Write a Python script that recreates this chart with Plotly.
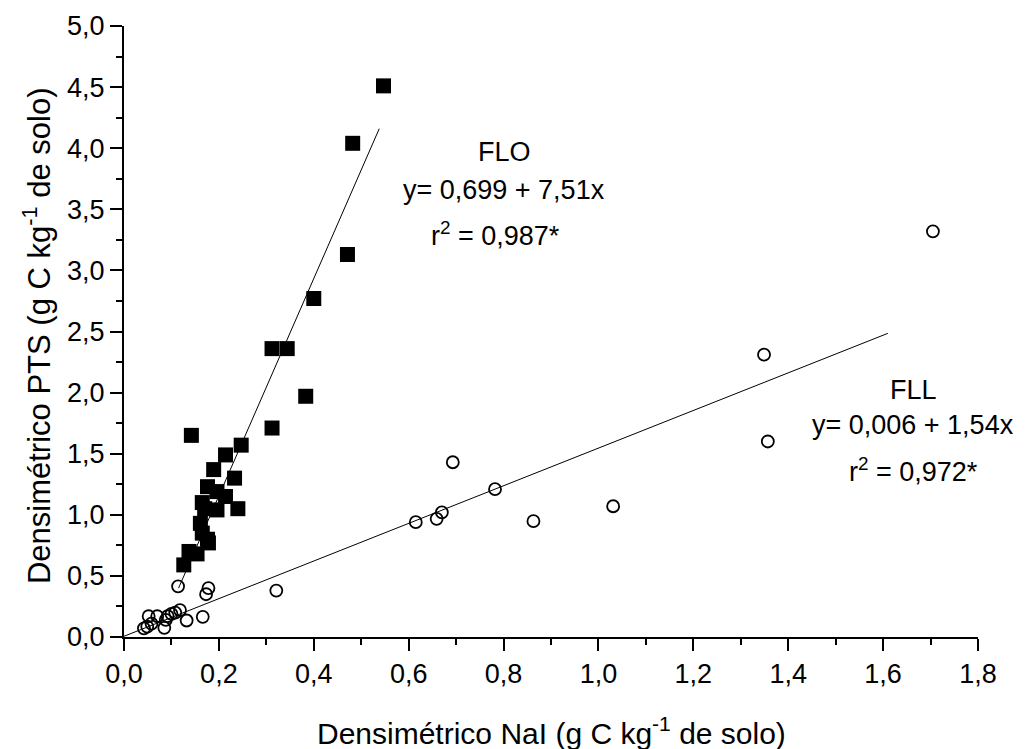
import plotly.graph_objects as go

# FLO (filled squares)
flo_x = [0.547, 0.482, 0.471, 0.400, 0.312, 0.344, 0.383, 0.312, 0.142, 0.247,
         0.214, 0.189, 0.233, 0.176, 0.196, 0.214, 0.165, 0.240, 0.196, 0.170,
         0.161, 0.165, 0.176, 0.178, 0.137, 0.154, 0.126]
flo_y = [4.51, 4.04, 3.13, 2.77, 2.36, 2.36, 1.97, 1.71, 1.65, 1.57,
         1.49, 1.37, 1.30, 1.23, 1.19, 1.15, 1.10, 1.05, 1.04, 1.05,
         0.93, 0.85, 0.80, 0.77, 0.70, 0.68, 0.59]

# FLL (open circles)
fll_x = [0.042, 0.049, 0.052, 0.058, 0.070, 0.085, 0.088, 0.092, 0.100, 0.108,
         0.118, 0.132, 0.166, 0.114, 0.173, 0.178, 0.321,
         0.615, 0.659, 0.670, 0.693, 0.782, 0.863, 1.031, 1.349, 1.357, 1.705]
fll_y = [0.07, 0.085, 0.17, 0.11, 0.17, 0.075, 0.14, 0.17, 0.19, 0.20,
         0.22, 0.135, 0.165, 0.415, 0.35, 0.40, 0.38,
         0.94, 0.967, 1.02, 1.43, 1.21, 0.948, 1.07, 2.31, 1.60, 3.32]

# regression lines as drawn
flo_fit_x = [0.115, 0.538]
flo_fit_y = [0.40, 4.16]
fll_fit_x = [0.0, 1.61]
fll_fit_y = [0.006, 2.485]

x_ticks = [0.0, 0.2, 0.4, 0.6, 0.8, 1.0, 1.2, 1.4, 1.6, 1.8]
y_ticks = [0.0, 0.5, 1.0, 1.5, 2.0, 2.5, 3.0, 3.5, 4.0, 4.5, 5.0]

FONT = "Liberation Sans, Arial, sans-serif"

fig = go.Figure()
fig.add_trace(go.Scatter(x=flo_fit_x, y=flo_fit_y, mode="lines",
                         line=dict(color="black", width=1), showlegend=False, hoverinfo="skip"))
fig.add_trace(go.Scatter(x=fll_fit_x, y=fll_fit_y, mode="lines",
                         line=dict(color="black", width=1), showlegend=False, hoverinfo="skip"))
fig.add_trace(go.Scatter(x=fll_x, y=fll_y, mode="markers", name="FLL",
                         marker=dict(symbol="circle-open", size=12, color="black",
                                     line=dict(color="black", width=1.8)),
                         showlegend=False))
fig.add_trace(go.Scatter(x=flo_x, y=flo_y, mode="markers", name="FLO",
                         marker=dict(symbol="square", size=15, color="black",
                                     line=dict(width=0)),
                         showlegend=False))

axis_common = dict(showgrid=False, zeroline=False, showline=True, linecolor="black",
                   linewidth=2, ticks="outside", ticklen=12, tickwidth=2, tickcolor="black",
                   tickfont=dict(family=FONT, size=27, color="black"), tickformat=".1f")

fig.update_xaxes(range=[0, 1.8], tickvals=x_ticks,
                 minor=dict(ticks="outside", ticklen=6, tickwidth=2, tickcolor="black", dtick=0.1),
                 **axis_common)
fig.update_yaxes(range=[0, 5.0], tickvals=y_ticks,
                 minor=dict(ticks="outside", ticklen=6, tickwidth=2, tickcolor="black", dtick=0.25),
                 **axis_common)

annots = [
    dict(x=0.801, y=3.97, text="FLO"),
    dict(x=0.801, y=3.657, text="y= 0,699 + 7,51x"),
    dict(x=0.782, y=3.30, text="r<sup>2</sup> = 0,987*"),
    dict(x=1.664, y=2.022, text="FLL"),
    dict(x=1.664, y=1.736, text="y= 0,006 + 1,54x"),
    dict(x=1.664, y=1.368, text="r<sup>2</sup> = 0,972*"),
]
for a in annots:
    fig.add_annotation(x=a["x"], y=a["y"], xref="x", yref="y", text=a["text"],
                       showarrow=False, font=dict(family=FONT, size=27, color="black"),
                       xanchor="center", yanchor="middle")

fig.add_annotation(x=0.5, y=-0.154, xref="paper", yref="paper",
                   text="Densimétrico NaI (g C kg<sup>-1</sup> de solo)", showarrow=False,
                   font=dict(family=FONT, size=30, color="black"),
                   xanchor="center", yanchor="middle")
fig.add_annotation(x=-0.102, y=0.494, xref="paper", yref="paper",
                   text="Densimétrico PTS (g C kg<sup>-1</sup> de solo)", showarrow=False,
                   textangle=-90, font=dict(family=FONT, size=31, color="black"),
                   xanchor="center", yanchor="middle")

fig.update_layout(width=1025, height=749, separators=",.",
                  margin=dict(l=124, r=47, t=26, b=112, pad=0),
                  plot_bgcolor="white", paper_bgcolor="white")

fig.write_html("out.html")
